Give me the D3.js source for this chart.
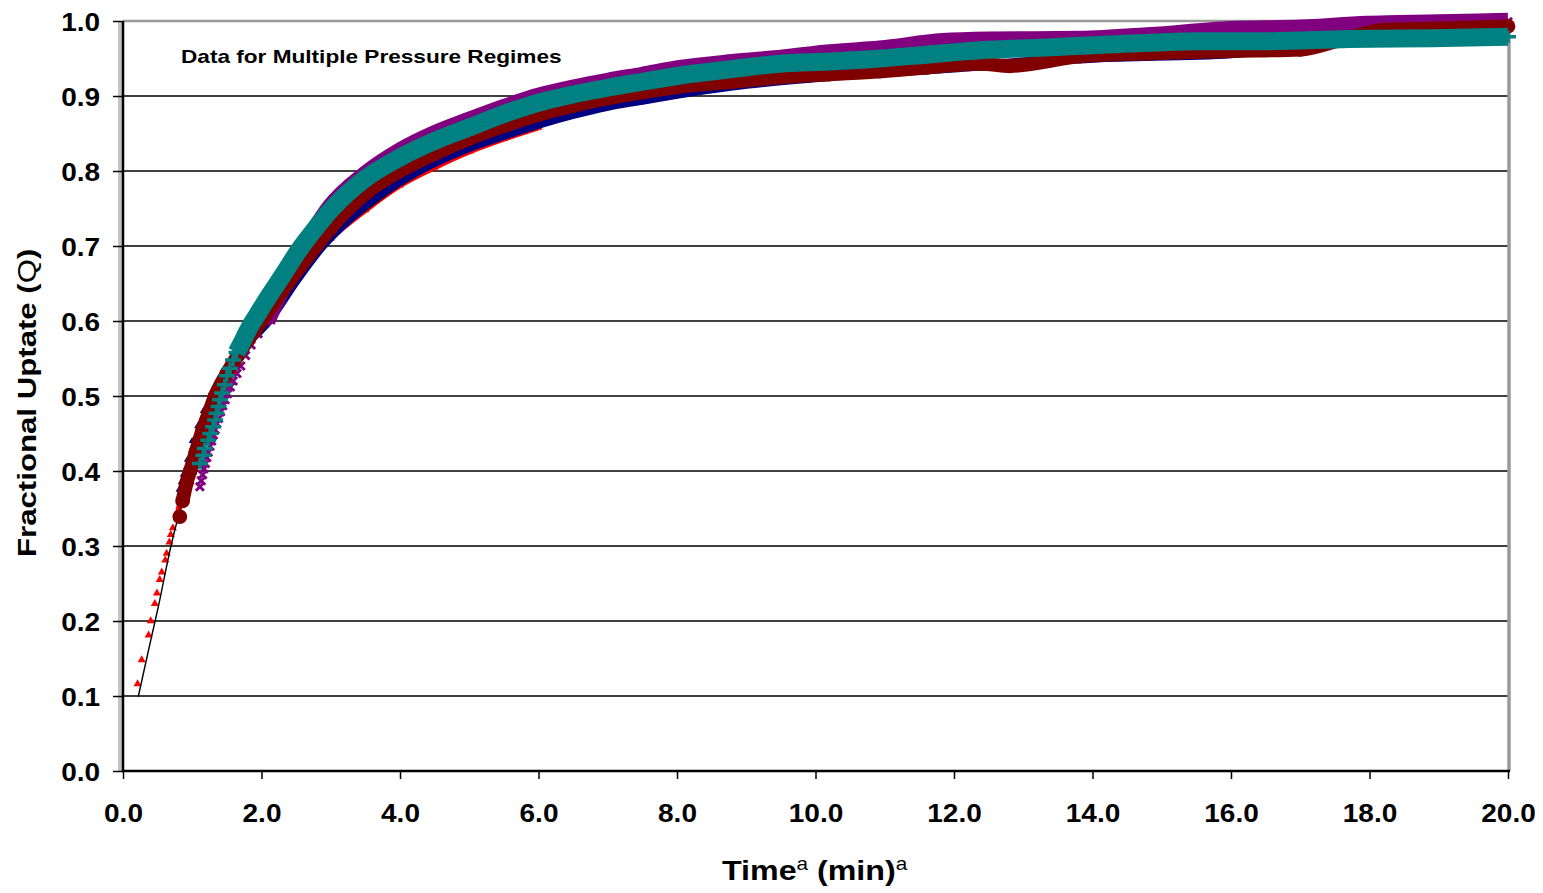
<!DOCTYPE html>
<html><head><meta charset="utf-8">
<script src="https://cdn.jsdelivr.net/npm/d3@7"></script>
<style>html,body{margin:0;padding:0;background:#fff;} svg{display:block;font-family:"Liberation Sans",Arial,sans-serif;}</style>
</head><body>
<svg id="chart" width="1543" height="893"></svg>
<script>
// ---------- data (time in min, fractional uptake Q) ----------
const xTicks = [0, 2, 4, 6, 8, 10, 12, 14, 16, 18, 20];
const yTicks = [0, 0.1, 0.2, 0.3, 0.4, 0.5, 0.6, 0.7, 0.8, 0.9, 1.0];
const annotationText = "Data for Multiple Pressure Regimes";
const xTitle = ["Time", "a", " (min)", "a"];
const yTitle = ["Fractional Uptate (", "Q", ")"];

const redData = [[0.21,0.116],[0.27,0.148],[0.37,0.181],[0.40,0.200],[0.46,0.223],[0.49,0.237],[0.53,0.255],[0.56,0.265],[0.61,0.281],[0.63,0.290],[0.67,0.305],[0.69,0.315],[0.72,0.324],[0.80,0.348],[0.90,0.375],[1.0,0.403],[1.2,0.455],[1.5,0.518],[2.0,0.597],[2.5,0.657],[3.0,0.71],[3.5,0.748],[4.0,0.781],[4.5,0.805],[5.0,0.826],[5.5,0.843],[6.0,0.858]];
const fitData = [[0.22,0.099],[0.39,0.17],[0.51,0.219],[0.69,0.299],[0.8,0.34],[1.0,0.4],[1.2,0.45],[1.5,0.515],[2.0,0.6],[2.5,0.66],[3.0,0.71],[3.42,0.741],[4.0,0.78],[5.0,0.828],[6.0,0.862],[7.0,0.886],[8.0,0.902]];
const blueData = [[0.81,0.375],[0.84,0.385],[0.87,0.395],[0.93,0.415],[1.0,0.44],[1.08,0.46],[1.16,0.48],[1.28,0.503],[1.4,0.525],[1.55,0.545],[1.7,0.565],[2.09,0.60],[2.5,0.655],[2.87,0.70],[3.28,0.738],[3.5,0.755],[4.0,0.787],[4.5,0.812],[5.0,0.832],[5.5,0.848],[6.0,0.863],[6.5,0.876],[7.0,0.887],[7.5,0.895],[8.0,0.903],[8.8,0.914],[10,0.925],[12,0.938],[14,0.951],[16,0.957],[18,0.983],[20,0.988]];
const purpleData = [[1.11,0.379],[1.13,0.387],[1.15,0.395],[1.17,0.403],[1.19,0.41],[1.21,0.418],[1.23,0.425],[1.255,0.433],[1.28,0.44],[1.305,0.448],[1.33,0.455],[1.355,0.463],[1.38,0.47],[1.41,0.479],[1.44,0.487],[1.475,0.495],[1.51,0.503],[1.55,0.512],[1.59,0.52],[1.645,0.53],[1.7,0.54],[1.77,0.554],[1.85,0.568],[1.95,0.583],[2.07,0.60],[2.3,0.645],[2.5,0.68],[2.75,0.718],[3.0,0.752],[3.5,0.795],[4.0,0.826],[4.5,0.849],[5.0,0.867],[5.5,0.884],[6.0,0.899],[6.5,0.91],[7.0,0.919],[7.5,0.927],[8.04,0.936],[8.8,0.944],[9.53,0.95],[10.2,0.957],[10.93,0.962],[11.84,0.972],[12.5,0.974],[13.82,0.975],[14.83,0.98],[15.99,0.988],[17.0,0.99],[17.96,0.995],[19.0,0.997],[20.0,0.999]];
const maroonData = [[0.82,0.339],[0.86,0.36],[0.92,0.385],[0.97,0.40],[1.05,0.425],[1.15,0.455],[1.25,0.48],[1.33,0.50],[1.5,0.53],[1.65,0.553],[1.8,0.574],[2.0,0.60],[2.38,0.65],[2.79,0.70],[3.0,0.724],[3.5,0.77],[4.0,0.80],[4.5,0.823],[5.0,0.843],[5.5,0.86],[6.0,0.875],[6.5,0.887],[7.0,0.897],[7.5,0.905],[8.0,0.912],[8.8,0.919],[9.49,0.925],[10.2,0.929],[10.93,0.933],[11.6,0.938],[12.38,0.943],[12.8,0.940],[13.82,0.953],[14.83,0.957],[16.0,0.960],[17.0,0.962],[17.6,0.975],[18.2,0.988],[19.0,0.99],[20.0,0.993]];
const tealData = [[1.11,0.41],[1.16,0.421],[1.18,0.43],[1.23,0.441],[1.26,0.45],[1.30,0.459],[1.33,0.468],[1.35,0.477],[1.38,0.486],[1.40,0.495],[1.43,0.504],[1.47,0.515],[1.50,0.527],[1.545,0.537],[1.59,0.548],[1.64,0.558],[1.71,0.57],[1.79,0.585],[1.86,0.597],[1.93,0.607],[2.03,0.622],[2.12,0.635],[2.3,0.66],[2.56,0.697],[2.75,0.72],[3.0,0.748],[3.5,0.79],[4.0,0.818],[4.5,0.84],[5.0,0.858],[5.5,0.876],[6.0,0.891],[6.5,0.902],[7.0,0.911],[7.5,0.919],[8.09,0.928],[8.8,0.936],[9.49,0.943],[10.2,0.946],[10.93,0.95],[11.6,0.955],[12.38,0.961],[13.39,0.965],[14.83,0.971],[15.55,0.973],[16.5,0.973],[17.7,0.976],[18.9,0.977],[20.0,0.979]];

// ---------- layout ----------
const svg = d3.select("#chart");
const x = d3.scaleLinear().domain([0, 20]).range([123, 1508]);
const y = d3.scaleLinear().domain([0, 1]).range([771, 21]);
const FONT = "'Liberation Sans',Arial,sans-serif";

// gridlines
svg.append("g").selectAll("line").data(yTicks.filter(v => v > 0 && v < 1)).join("line")
  .attr("x1", x(0)).attr("x2", x(20)).attr("y1", d => y(d)).attr("y2", d => y(d))
  .attr("stroke", "#000").attr("stroke-width", 1.4);

// plot border (gray top/right, shadowed left)
svg.append("line").attr("x1", x(0)).attr("x2", x(20) + 2).attr("y1", y(1)).attr("y2", y(1)).attr("stroke", "#9a9a9a").attr("stroke-width", 2.5);
svg.append("line").attr("x1", x(20) + 1).attr("x2", x(20) + 1).attr("y1", y(1)).attr("y2", y(0)).attr("stroke", "#9a9a9a").attr("stroke-width", 3.5);
svg.append("line").attr("x1", x(0) - 3).attr("x2", x(0) - 3).attr("y1", y(1)).attr("y2", y(0)).attr("stroke", "#c4c4c4").attr("stroke-width", 4);

// axes
const gy = svg.append("g").attr("transform", `translate(${x(0)},0)`)
  .call(d3.axisLeft(y).tickValues(yTicks).tickSize(10).tickFormat(d => d.toFixed(1)));
gy.select(".domain").remove();
gy.selectAll(".tick line").attr("stroke", "#000").attr("stroke-width", 1.5);
gy.selectAll(".tick text").attr("x", -20.5).attr("dy", "0.36em").attr("transform", "scale(1.12,1)")
  .style("font-size", "25px").style("font-weight", "bold").style("font-family", FONT).attr("fill", "#000");

const gx = svg.append("g").attr("transform", `translate(0,${y(0)})`)
  .call(d3.axisBottom(x).tickValues(xTicks).tickSize(8).tickFormat(d => d.toFixed(1)));
gx.select(".domain").remove();
gx.selectAll(".tick line").attr("stroke", "#000").attr("stroke-width", 1.5);
gx.selectAll(".tick text").attr("y", 51).attr("dy", 0).attr("transform", "scale(1.12,1)")
  .style("font-size", "25px").style("font-weight", "bold").style("font-family", FONT).attr("fill", "#000");

// axis lines
svg.append("line").attr("x1", x(0)).attr("x2", x(0)).attr("y1", y(1)).attr("y2", y(0) + 1).attr("stroke", "#000").attr("stroke-width", 2.5);
svg.append("line").attr("x1", x(0) - 1).attr("x2", x(20) + 2).attr("y1", y(0)).attr("y2", y(0)).attr("stroke", "#000").attr("stroke-width", 2.5);

// ---------- series ----------
const line = d3.line().x(d => x(d[0])).y(d => y(d[1])).curve(d3.curveMonotoneX);
const plot = svg.append("g");

function band(data, from, color, width) {
  plot.append("path").datum(data.filter(d => d[0] >= from)).attr("d", line)
    .attr("fill", "none").attr("stroke", color).attr("stroke-width", width)
    .attr("stroke-linecap", "butt").attr("stroke-linejoin", "round");
}
function markers(data, pathD, color, filled, sw) {
  plot.append("g").selectAll("path").data(data).join("path")
    .attr("transform", d => `translate(${x(d[0])},${y(d[1])})`)
    .attr("d", pathD)
    .attr("fill", filled ? color : "none")
    .attr("stroke", filled ? "none" : color)
    .attr("stroke-width", sw || 0);
}

// red triangles
band(redData, 0.8, "#ff0000", 6);
markers(redData, d3.symbol(d3.symbolTriangle, 28)(), "#ff0000", true);
// fitted line
plot.append("path").datum(fitData).attr("d", line).attr("fill", "none").attr("stroke", "#000").attr("stroke-width", 1.4);
// blue
band(blueData, 1.7, "#000080", 10);
markers(blueData, d3.symbol(d3.symbolTriangle, 22)(), "#000080", true);
// purple
band(purpleData, 2.0, "#800080", 18);
markers(purpleData, "M-4,-4L4,4M-4,4L4,-4", "#800080", false, 3);
// maroon
band(maroonData, 0.86, "#800000", 14);
markers(maroonData, d3.symbol(d3.symbolCircle, 170)(), "#800000", true);
// teal
band(tealData, 1.64, "#008080", 18);
markers(tealData, "M-8,0H8M0,-6V6", "#008080", false, 3.5);

// ---------- text ----------
svg.append("text").attr("transform", "translate(181,63) scale(1.19,1)")
  .style("font-size", "19px").style("font-weight", "bold").attr("fill", "#000").text(annotationText);

const yt = svg.append("text").attr("transform", "translate(36,557) rotate(-90) scale(1.2,1)")
  .style("font-size", "26px").style("font-weight", "bold").attr("fill", "#000");
yt.append("tspan").text(yTitle[0]);
yt.append("tspan").style("font-weight", "normal").text(yTitle[1]);
yt.append("tspan").text(yTitle[2]);

const xt = svg.append("text").attr("transform", "translate(722,880) scale(1.15,1)")
  .style("font-size", "28px").style("font-weight", "bold").attr("fill", "#000");
xt.append("tspan").text(xTitle[0]);
xt.append("tspan").attr("dy", -10).style("font-size", "18px").style("font-weight", "normal").text(xTitle[1]);
xt.append("tspan").attr("dy", 10).text(xTitle[2]);
xt.append("tspan").attr("dy", -10).style("font-size", "18px").style("font-weight", "normal").text(xTitle[3]);
</script>
</body></html>
